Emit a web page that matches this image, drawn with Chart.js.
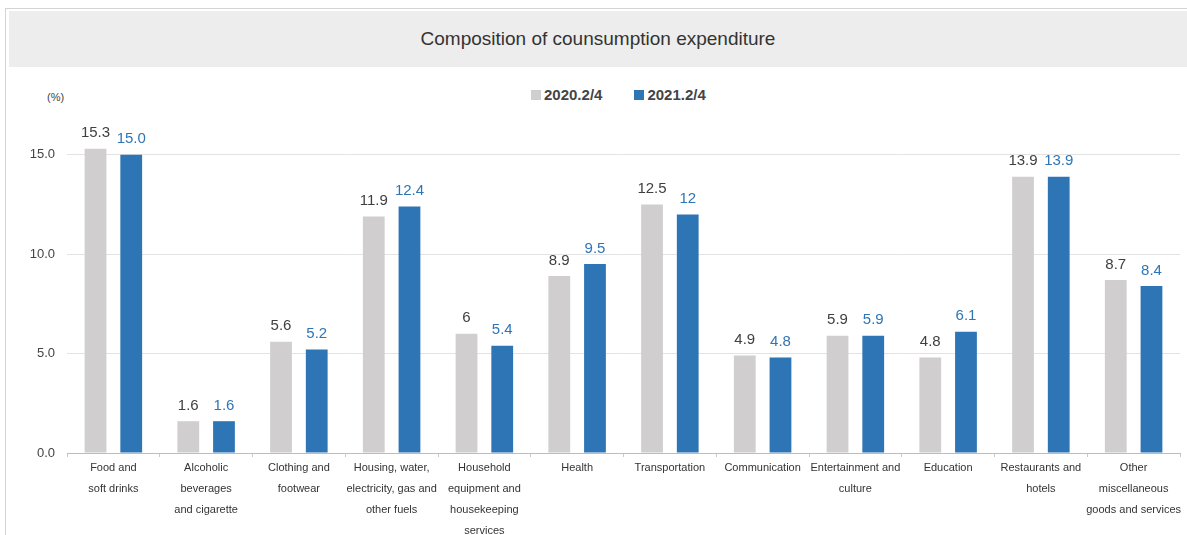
<!DOCTYPE html>
<html>
<head>
<meta charset="utf-8">
<script src="https://cdn.jsdelivr.net/npm/chart.js@4/dist/chart.umd.min.js"></script>
<style>
  body { margin: 0; background: #fff; font-family: 'Liberation Sans', sans-serif; }
  #wrap { position: relative; width: 1187px; height: 535px; overflow: hidden; }
  #frame { position: absolute; left: 5px; top: 8px; width: 1200px; height: 540px; border-left: 1px solid #d4d4d4; border-top: 1px solid #d4d4d4; }
  #band { position: absolute; left: 9px; top: 11px; width: 1178px; height: 56px; background: #ededed; text-align: center; line-height: 56px; font-size: 19px; color: #333; }
  #unit { position: absolute; left: 47px; top: 91px; font-size: 11px; color: #444; }
  #legend { position: absolute; left: 531px; top: 86px; font-size: 15px; font-weight: bold; color: #444; }
  #legend span.box { display: inline-block; width: 10px; height: 10px; margin-right: 3px; vertical-align: 0px; }
  #legend span.item { margin-right: 32px; }
  canvas { position: absolute; left: 0; top: 0; }
</style>
</head>
<body>
<div id="wrap">
  <div id="frame"></div>
  <div id="band">Composition of counsumption expenditure</div>
  <div id="unit">(%)</div>
  <div id="legend">
    <span class="item"><span class="box" style="background:#d0cece"></span>2020.2/4</span><span class="item"><span class="box" style="background:#2e75b6"></span>2021.2/4</span>
  </div>
  <canvas id="chart" width="1187" height="535"></canvas>
</div>
<script>
// categories (multi-line labels as shown on the x axis)
const categories = [
    ['Food and', 'soft drinks'],
    ['Alcoholic', 'beverages', 'and cigarette'],
    ['Clothing and', 'footwear'],
    ['Housing, water,', 'electricity, gas and', 'other fuels'],
    ['Household', 'equipment and', 'housekeeping', 'services'],
    ['Health'],
    ['Transportation'],
    ['Communication'],
    ['Entertainment and', 'culture'],
    ['Education'],
    ['Restaurants and', 'hotels'],
    ['Other', 'miscellaneous', 'goods and services']
];

const seriesNames = ['2020.2/4', '2021.2/4'];
const values2020 = [15.3, 1.6, 5.6, 11.9, 6, 8.9, 12.5, 4.9, 5.9, 4.8, 13.9, 8.7];
const values2021 = [15.0, 1.6, 5.2, 12.4, 5.4, 9.5, 12, 4.8, 5.9, 6.1, 13.9, 8.4];

// value labels as printed above the bars
const text2020 = ['15.3', '1.6', '5.6', '11.9', '6', '8.9', '12.5', '4.9', '5.9', '4.8', '13.9', '8.7'];
const text2021 = ['15.0', '1.6', '5.2', '12.4', '5.4', '9.5', '12', '4.8', '5.9', '6.1', '13.9', '8.4'];

const yTicks = [0, 5, 10, 15];

const FONT = "'Liberation Sans', sans-serif";

// draw the numbers on top of each bar
const valueLabels = {
    id: 'valueLabels',
    afterDatasetsDraw(chart) {
        const ctx = chart.ctx;
        const texts = [text2020, text2021];
        const colors = ['#404040', '#2e75b6'];
        ctx.save();
        ctx.font = '15px ' + FONT;
        ctx.textAlign = 'center';
        ctx.textBaseline = 'bottom';
        chart.data.datasets.forEach((ds, i) => {
            const meta = chart.getDatasetMeta(i);
            ctx.fillStyle = colors[i];
            meta.data.forEach((bar, j) => {
                ctx.fillText(texts[i][j], bar.x, bar.y - 8);
            });
        });
        ctx.restore();
    }
};

new Chart(document.getElementById('chart'), {
    type: 'bar',
    data: {
        labels: categories,
        datasets: [
            {
                label: seriesNames[0],
                data: values2020,
                backgroundColor: '#d0cece',
                categoryPercentage: 0.77,
                barPercentage: 0.61
            },
            {
                label: seriesNames[1],
                data: values2021,
                backgroundColor: '#2e75b6',
                categoryPercentage: 0.77,
                barPercentage: 0.61
            }
        ]
    },
    options: {
        responsive: false,
        animation: false,
        layout: { padding: { top: 115, right: 7, left: 0, bottom: 0 } },
        plugins: {
            legend: { display: false },
            tooltip: { enabled: false }
        },
        scales: {
            x: {
                grid: { drawOnChartArea: false, drawTicks: true, tickLength: 4, color: '#c8c8c8' },
                border: { color: '#bdbdbd' },
                ticks: {
                    color: '#333',
                    font: { family: FONT, size: 11, lineHeight: 1.9 },
                    padding: 1,
                    maxRotation: 0,
                    autoSkip: false
                },
                afterFit(scale) { scale.height = 82; }
            },
            y: {
                min: 0,
                max: 17,
                afterBuildTicks(axis) { axis.ticks = yTicks.map(v => ({ value: v })); },
                grid: { color: '#e3e3e3', drawTicks: false },
                border: { display: false },
                ticks: {
                    color: '#444',
                    font: { family: FONT, size: 13 },
                    padding: 12,
                    callback: v => v.toFixed(1)
                },
                afterFit(scale) { scale.width = 67; }
            }
        }
    },
    plugins: [valueLabels]
});
</script>
</body>
</html>
